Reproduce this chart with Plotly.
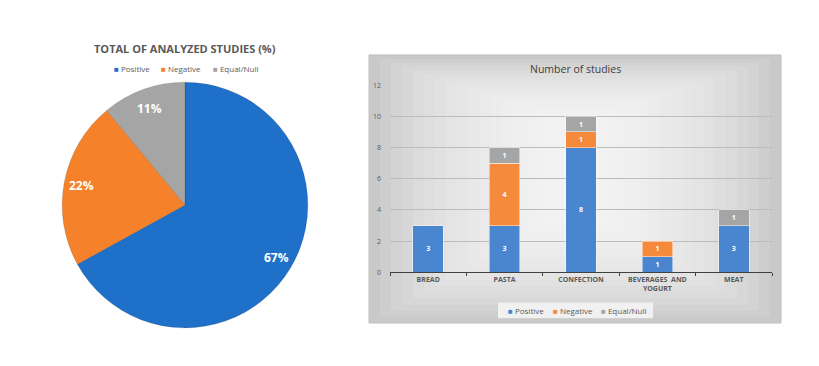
import math
import plotly.graph_objects as go

# ---- data ----
pie_labels = ["Positive", "Negative", "Equal/Null"]
pie_values = [67, 22, 11]

categories = ["BREAD", "PASTA", "CONFECTION", "BEVERAGES  AND<br>YOGURT", "MEAT"]
positive = [3, 3, 8, 1, 3]
negative = [None, 4, 1, 1, None]
equal_null = [None, 1, 1, None, 1]
y_ticks = [0, 2, 4, 6, 8, 10, 12]

pie_colors = ["#1F70C8", "#F5822A", "#A5A5A5"]
bar_colors = ["#4A86D0", "#F58A3C", "#A5A5A5"]
FONT = "Open Sans"
GRAY = "#595959"

# page body has an 8px margin; work in window pixel coordinates
OFF = 8
W, H = 819 - OFF, 366 - OFF


def px(X):
    return (X - OFF) / W


def py(Y):
    return (366 - Y) / H


fig = go.Figure()

# pie geometry (window pixels)
PX0, PX1, PY0, PY1 = 62, 308, 82, 328
cx, cy, R = (PX0 + PX1) / 2, (PY0 + PY1) / 2, (PX1 - PX0) / 2
PAD = 3  # plotly draws the pie slightly smaller than its domain

fig.add_trace(go.Pie(
    labels=pie_labels, values=pie_values, sort=False, direction="clockwise",
    rotation=0, marker=dict(colors=pie_colors, line=dict(color="rgba(0,0,0,0.12)", width=1)),
    textinfo="none",
    domain=dict(x=[px(PX0 - PAD), px(PX1 + PAD)], y=[py(PY1 + PAD), py(PY0 - PAD)]),
    showlegend=False, hoverinfo="label+percent",
))

# percent labels placed along each slice's mid-angle
annotations = []
total = sum(pie_values)
cum = 0
for v in pie_values:
    theta = 2 * math.pi * (cum + v / 2) / total
    cum += v
    lx = cx + 0.86 * R * math.sin(theta)
    ly = cy - 0.86 * R * math.cos(theta)
    annotations.append(dict(text=f"<b>{round(100 * v / total)}%</b>", x=px(lx), y=py(ly),
                            xref="paper", yref="paper", xanchor="center", yanchor="middle",
                            showarrow=False, font=dict(size=12, color="white", family=FONT)))

for name, vals, col in zip(pie_labels, [positive, negative, equal_null], bar_colors):
    fig.add_trace(go.Bar(
        x=categories, y=vals, name=name,
        marker=dict(color=col, line=dict(color="rgba(255,255,255,0.8)", width=0.6)),
        text=[f"<b>{v}</b>" if v is not None else None for v in vals],
        textposition="inside", insidetextanchor="middle",
        textfont=dict(color="white", size=7, family=FONT), showlegend=False,
        width=0.4, xaxis="x", yaxis="y",
    ))

# legend items as text (left edges in window px)
pie_legend_x = [112, 159, 211]
bar_legend_x = [506, 551, 599]
for names, colors, xs, yy, fs in [(pie_labels, pie_colors, pie_legend_x, 65, 8),
                                  (pie_labels, bar_colors, bar_legend_x, 313, 8)]:
    for nm, c, xx in zip(names, colors, xs):
        annotations.append(dict(text=f"<span style='color:{c}'>■</span> {nm}", x=px(xx), y=py(yy),
                                xref="paper", yref="paper", xanchor="left", yanchor="middle",
                                showarrow=False, font=dict(size=fs, color=GRAY, family=FONT)))

# gradient-like panel background
shapes = []
bx0, bx1, by0, by1 = px(369), px(781), py(326), py(51)
shapes.append(dict(type="rect", xref="paper", yref="paper", x0=bx0, x1=bx1, y0=by0, y1=by1,
                   fillcolor="#c9c9c9", line=dict(color="#c0c0c0", width=1), layer="below"))
n = 16
for i in range(1, n + 1):
    dx = i * 11 / W
    dy = i * 7 / H
    shapes.append(dict(type="rect", xref="paper", yref="paper",
                       x0=bx0 + dx, x1=bx1 - dx, y0=by0 + dy * 0.9, y1=by1 - dy * 0.55,
                       fillcolor="rgba(255,255,255,0.1)", line=dict(width=0), layer="below"))
# bar legend box
shapes.append(dict(type="rect", xref="paper", yref="paper", x0=px(498), x1=px(653), y0=py(321), y1=py(305),
                   fillcolor="rgba(242,242,242,0.95)", line=dict(width=0), layer="below"))

annotations += [
    dict(text="<b>TOTAL OF ANALYZED STUDIES (%)</b>", x=px(185), y=py(44), xref="paper", yref="paper",
         xanchor="center", yanchor="middle", showarrow=False, font=dict(size=11, color=GRAY, family=FONT)),
    dict(text="Number of studies", x=px(575), y=py(65), xref="paper", yref="paper",
         xanchor="center", yanchor="middle", showarrow=False, font=dict(size=10.5, color="#404040", family=FONT)),
]

fig.update_layout(
    width=W, height=H, margin=dict(l=0, r=0, t=0, b=0),
    paper_bgcolor="white", plot_bgcolor="rgba(0,0,0,0)",
    font=dict(family=FONT, color=GRAY),
    barmode="stack", showlegend=False,
    shapes=shapes,
    xaxis=dict(type="category", domain=[px(390), px(772)], anchor="y", showline=True,
               linecolor="#404040", linewidth=1,
               ticks="outside", tickson="boundaries", ticklen=3, tickcolor="#404040",
               tickvals=categories, ticktext=[f"<b>{c}</b>" for c in categories],
               tickfont=dict(size=7, color=GRAY, family=FONT), showgrid=False, fixedrange=True),
    yaxis=dict(domain=[py(274), py(82)], anchor="x", range=[0, 12], tickvals=y_ticks,
               showgrid=True, gridcolor="#bcbcbc", gridwidth=1, zeroline=False, showline=False,
               tickfont=dict(size=7, color=GRAY, family=FONT), ticks="", ticklabelstandoff=8),
    annotations=annotations,
)

fig.write_html("out.html")
